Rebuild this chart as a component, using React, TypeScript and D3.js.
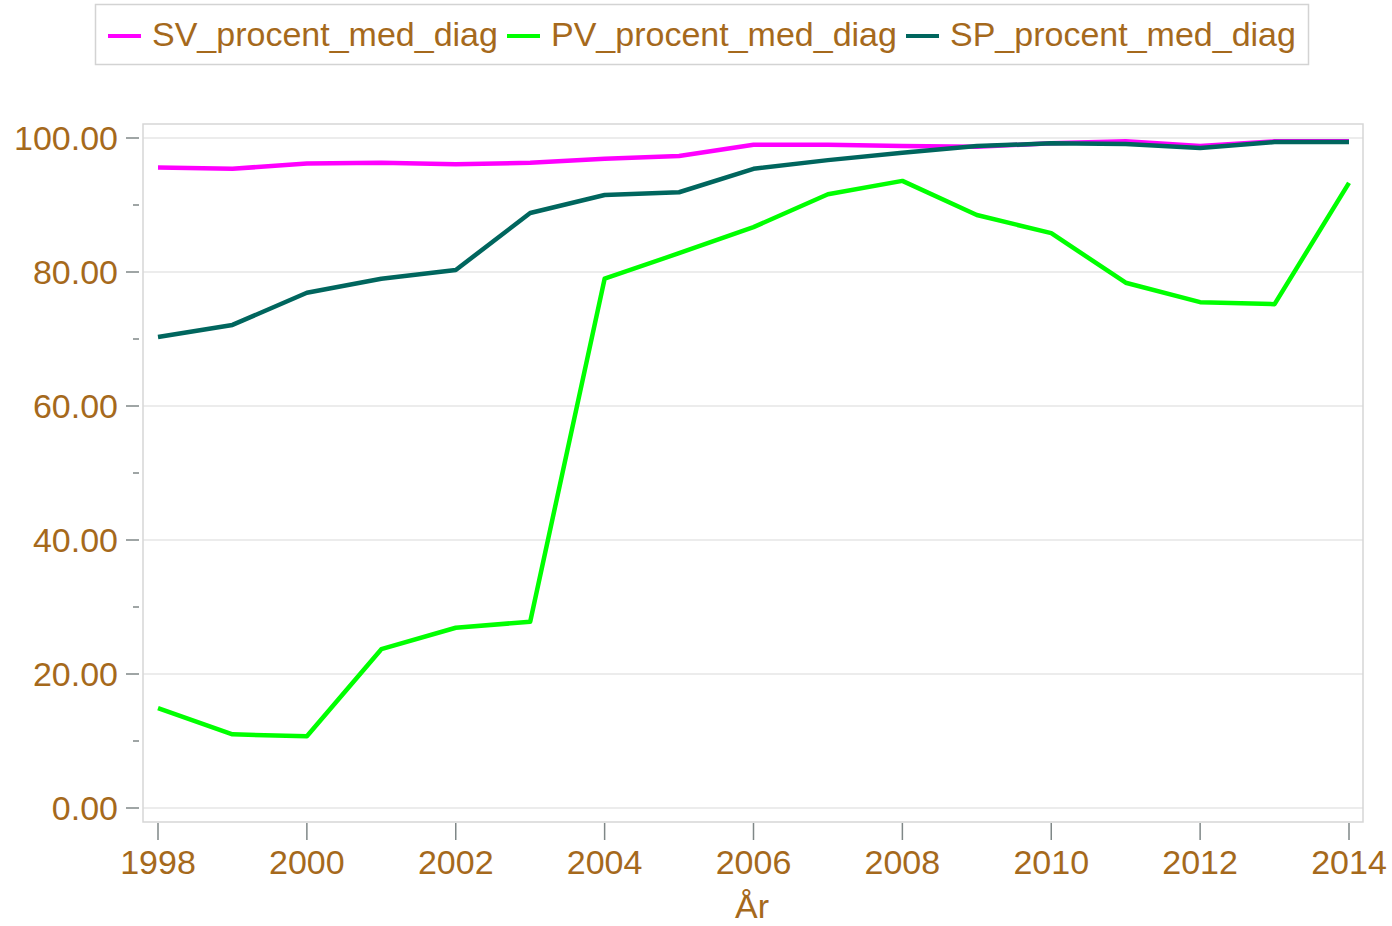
import React from "react";
import * as d3 from "d3";

const years = [1998, 1999, 2000, 2001, 2002, 2003, 2004, 2005, 2006, 2007, 2008, 2009, 2010, 2011, 2012, 2013, 2014];
const svValues = [95.6, 95.4, 96.2, 96.3, 96.1, 96.3, 96.9, 97.3, 99.0, 99.0, 98.8, 98.7, 99.2, 99.5, 98.8, 99.5, 99.5];
const pvValues = [14.9, 11.0, 10.7, 23.7, 26.9, 27.8, 79.0, 82.8, 86.7, 91.6, 93.6, 88.5, 85.8, 78.4, 75.5, 75.2, 93.3];
const spValues = [70.3, 72.1, 76.9, 79.0, 80.3, 88.8, 91.5, 91.9, 95.4, 96.7, 97.8, 98.8, 99.2, 99.1, 98.5, 99.4, 99.4];
const seriesNames = ["SV_procent_med_diag", "PV_procent_med_diag", "SP_procent_med_diag"];
const seriesColors = ["#ff00ff", "#00ff00", "#00665e"];
const xTicks = [1998, 2000, 2002, 2004, 2006, 2008, 2010, 2012, 2014];
const yMajorTicks = [0, 20, 40, 60, 80, 100];
const yMinorTicks = [10, 30, 50, 70, 90];
const xTitle = "År";

const W = 1392;
const H = 926;
const textColor = "#a5691c";
const font = "'Liberation Sans', Arial, sans-serif";

export default function App() {
  const x = d3.scaleLinear().domain([1998, 2014]).range([158, 1349]);
  const y = d3.scaleLinear().domain([0, 100]).range([808, 138]);
  const frame = { x0: 143, x1: 1363, y0: 124, y1: 822 };
  const line = d3.line<number>().x((_, i) => x(years[i])).y((d) => y(d));
  const all = [svValues, pvValues, spValues];
  const legendItems = [
    { lx: 108, tx: 152 },
    { lx: 507, tx: 551 },
    { lx: 906, tx: 950 },
  ];
  return (
    <svg width={W} height={H} style={{ position: "absolute", left: 0, top: 0, background: "#fff" }} fontFamily={font}>
      <rect x={0} y={0} width={W} height={H} fill="#fff" />
      {/* legend */}
      <rect x={95.5} y={4.5} width={1213} height={60} fill="#fff" stroke="#d3d3d3" strokeWidth={1.5} />
      {seriesNames.map((n, i) => (
        <g key={n}>
          <line x1={legendItems[i].lx} x2={legendItems[i].lx + 33} y1={36} y2={36} stroke={seriesColors[i]} strokeWidth={4} />
          <text x={legendItems[i].tx} y={46} fontSize={34} fill={textColor}>{n}</text>
        </g>
      ))}
      {/* gridlines */}
      {yMajorTicks.map((t) => (
        <line key={t} x1={frame.x0} x2={frame.x1} y1={y(t)} y2={y(t)} stroke="#e6e6e6" strokeWidth={1.5} />
      ))}
      <rect x={frame.x0} y={frame.y0} width={frame.x1 - frame.x0} height={frame.y1 - frame.y0} fill="none" stroke="#d6d6d6" strokeWidth={1.5} />
      {/* y ticks */}
      {yMajorTicks.map((t) => (
        <g key={t}>
          <line x1={126} x2={139} y1={y(t)} y2={y(t)} stroke="#7f8787" strokeWidth={1.5} />
          <text x={118} y={y(t) + 12} fontSize={34} textAnchor="end" fill={textColor}>{t.toFixed(2)}</text>
        </g>
      ))}
      {yMinorTicks.map((t) => (
        <line key={t} x1={133} x2={139} y1={y(t)} y2={y(t)} stroke="#7f8787" strokeWidth={1.5} />
      ))}
      {/* x ticks */}
      {xTicks.map((t) => (
        <g key={t}>
          <line x1={x(t)} x2={x(t)} y1={823} y2={840} stroke="#7f8787" strokeWidth={1.5} />
          <text x={x(t)} y={874} fontSize={34} textAnchor="middle" fill={textColor}>{t}</text>
        </g>
      ))}
      <text x={752} y={918} fontSize={34} textAnchor="middle" fill={textColor}>{xTitle}</text>
      {/* lines */}
      {all.map((vals, i) => (
        <path key={i} d={line(vals) || ""} fill="none" stroke={seriesColors[i]} strokeWidth={4.5} strokeLinejoin="round" />
      ))}
    </svg>
  );
}
